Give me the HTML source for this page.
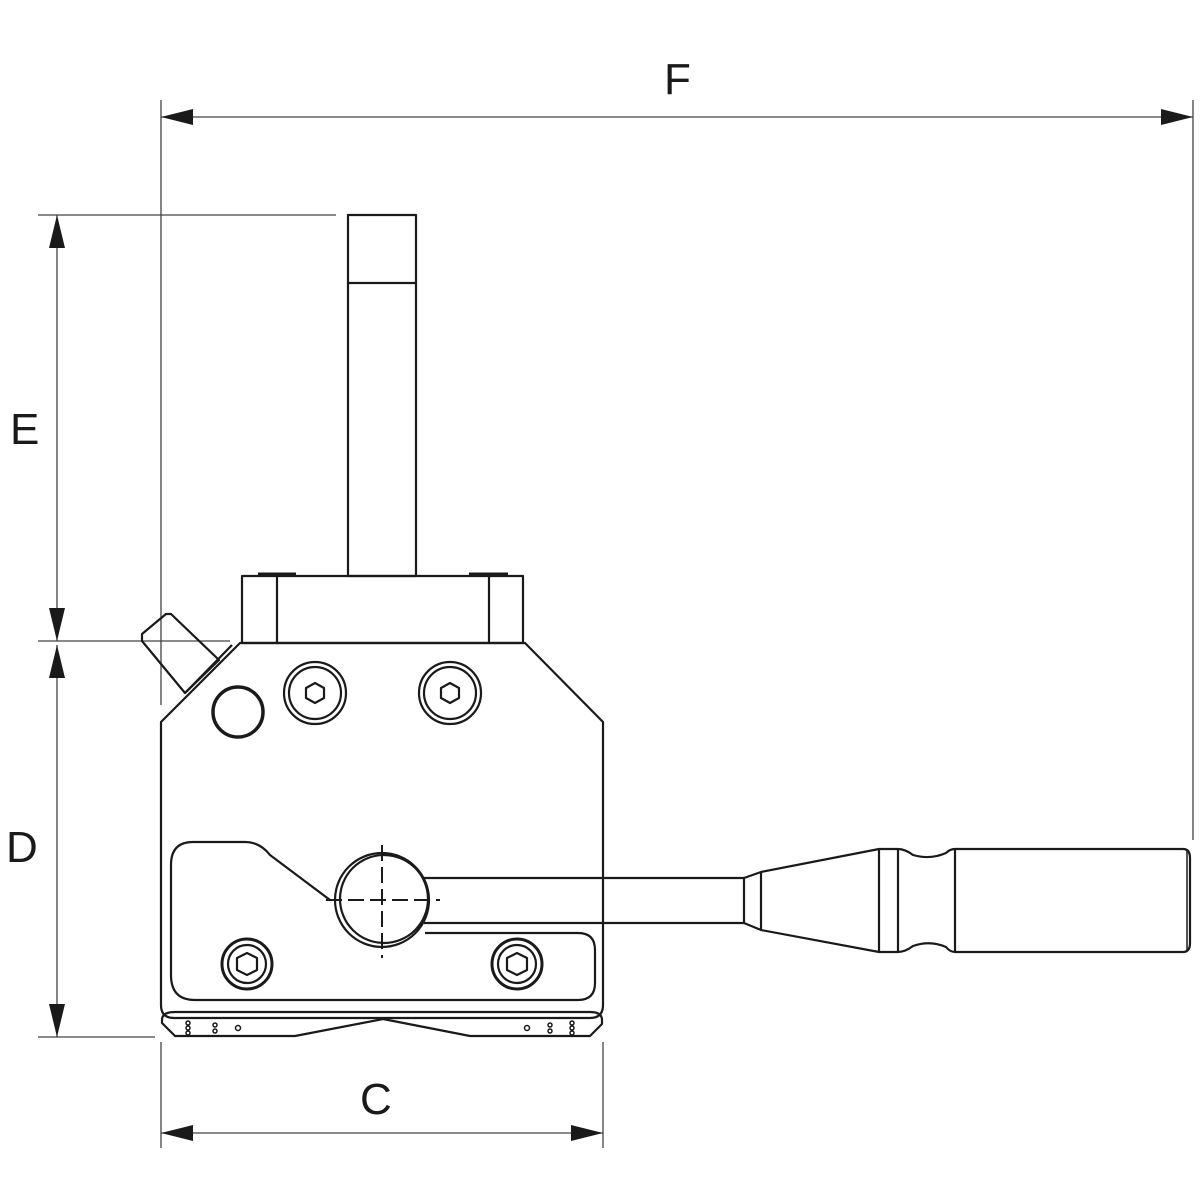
<!DOCTYPE html>
<html><head><style>body{margin:0;background:#fff}svg{display:block}text{font-family:"Liberation Sans",sans-serif;font-size:44px;fill:#1a1a1a}</style></head>
<body>
<svg width="1200" height="1200" viewBox="0 0 1200 1200" xmlns="http://www.w3.org/2000/svg">
<g stroke="#444" stroke-width="1.3" fill="none">
<line x1="161" y1="100" x2="161" y2="705"/>
<line x1="1193" y1="100" x2="1193" y2="840"/>
<line x1="161" y1="117" x2="1193" y2="117"/>
<line x1="38" y1="215" x2="336" y2="215"/>
<line x1="38" y1="641" x2="230" y2="641"/>
<line x1="57" y1="215" x2="57" y2="641"/>
<line x1="57" y1="645" x2="57" y2="1037"/>
<line x1="38" y1="1037" x2="155" y2="1037"/>
<line x1="161" y1="1042" x2="161" y2="1148"/>
<line x1="603" y1="1042" x2="603" y2="1148"/>
<line x1="161" y1="1133" x2="603" y2="1133"/>
</g>
<g fill="#1a1a1a">
<polygon points="161,117 193,109 193,125"/>
<polygon points="1193,117 1161,109 1161,125"/>
<polygon points="57,215 49,248 65,248"/>
<polygon points="57,641 49,608 65,608"/>
<polygon points="57,645 49,678 65,678"/>
<polygon points="57,1037 49,1004 65,1004"/>
<polygon points="161,1133 193,1125 193,1141"/>
<polygon points="603,1133 571,1125 571,1141"/>
</g>
<text x="664" y="94">F</text>
<text x="10" y="444">E</text>
<text x="6" y="862">D</text>
<text x="360" y="1114">C</text>
<g stroke="#1a1a1a" stroke-width="2.2" fill="none" stroke-linejoin="round">
<!-- stem -->
<rect x="348" y="215" width="68" height="361"/>
<line x1="348" y1="283" x2="416" y2="283"/>
<!-- top block -->
<rect x="242" y="576" width="281" height="67"/>
<line x1="277" y1="576" x2="277" y2="643"/>
<line x1="489" y1="576" x2="489" y2="643"/>
<line x1="258" y1="574" x2="296" y2="574" stroke-width="3"/>
<line x1="469" y1="574" x2="508" y2="574" stroke-width="3"/>
<!-- pin knob -->
<polygon points="142,634 142,641 185,693 219,660 171,614 166,614"/>
<!-- body -->
<path d="M240,643 L525,643 L603,722 L603,1005 Q603,1018 590,1018 L174,1018 Q161,1018 161,1005 L161,722 Z"/>
<line x1="185" y1="693" x2="232" y2="645"/>
<!-- base plate -->
<path d="M175,1012 L590,1012 Q602,1012 602,1020 L602,1024 L590,1036 L470,1036 L383,1019 L295,1036 L175,1036 L162,1023 L162,1020 Q162,1012 175,1012 Z"/>
<!-- ring -->
<circle cx="238" cy="712" r="25" stroke-width="3.5"/>
<!-- top bolts -->
<circle cx="315" cy="693" r="31"/><circle cx="315" cy="693" r="26"/>
<polygon points="315,683 324,688 324,698 315,703 306,698 306,688"/>
<circle cx="450" cy="693" r="31"/><circle cx="450" cy="693" r="26"/>
<polygon points="450,683 459,688 459,698 450,703 441,698 441,688"/>
<!-- lower plate -->
<path d="M330,900 L270,855 Q260,842 245,842 L193,842 Q171,842 171,865 L171,975 Q171,1000 195,1000 L578,1000 Q595,1000 595,983 L595,950 Q595,933 578,933 L425,933"/>
<!-- lower bolts -->
<circle cx="247" cy="964" r="25" stroke-width="3"/><circle cx="247" cy="964" r="19"/>
<polygon points="247,953 257,958 257,970 247,975 237,970 237,958"/>
<circle cx="517" cy="964" r="25" stroke-width="3"/><circle cx="517" cy="964" r="19"/>
<polygon points="517,953 527,958 527,970 517,975 507,970 507,958"/>
<!-- lever arm -->
<path d="M424,878 L744,878 L761,872 L879,849 L898,849 Q905,849 913,855 Q930,860 946,853 Q950,849 955,849 L1183,849 Q1190,849 1190,858 L1190,943 Q1190,952 1183,952 L955,952 Q950,952 946,947 Q930,940 913,946 Q905,952 898,952 L879,952 L761,930 L744,923 L424,923"/>
<line x1="744" y1="878" x2="744" y2="923"/>
<line x1="761" y1="872" x2="761" y2="930"/>
<line x1="879" y1="849" x2="879" y2="952"/>
<line x1="898" y1="849" x2="898" y2="952"/>
<line x1="955" y1="849" x2="955" y2="952"/>
<line x1="1187" y1="851" x2="1187" y2="950" stroke-width="1.5"/>
<!-- pin -->
<circle cx="382" cy="900" r="47" fill="#fff"/>
<circle cx="384" cy="899" r="44"/>
</g>
<g stroke="#1a1a1a" stroke-width="2" stroke-dasharray="16,6">
<line x1="326" y1="900" x2="440" y2="900"/>
<line x1="382" y1="845" x2="382" y2="958"/>
</g>
<g fill="none" stroke="#1a1a1a" stroke-width="1.5">
<circle cx="188" cy="1023" r="2"/><circle cx="188" cy="1028" r="2"/><circle cx="188" cy="1033" r="2"/>
<circle cx="215" cy="1025" r="2"/><circle cx="215" cy="1031" r="2"/>
<circle cx="238" cy="1028" r="2.5"/>
<circle cx="527" cy="1028" r="2.5"/>
<circle cx="550" cy="1025" r="2"/><circle cx="550" cy="1031" r="2"/>
<circle cx="572" cy="1023" r="2"/><circle cx="572" cy="1028" r="2"/><circle cx="572" cy="1033" r="2"/>
</g>
</svg>
</body></html>
